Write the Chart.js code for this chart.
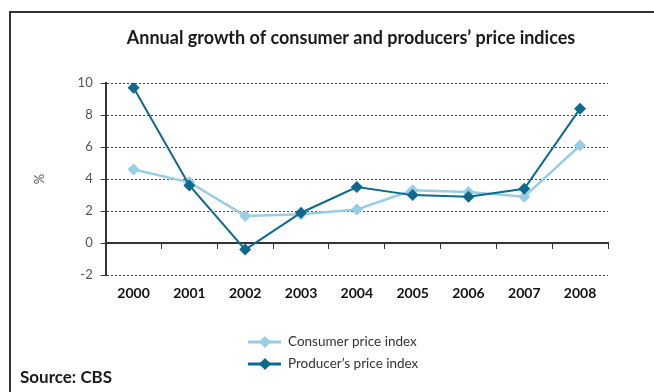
<!DOCTYPE html>
<html>
<head>
<meta charset="utf-8">
<title>Annual growth of consumer and producers’ price indices</title>
<script src="https://cdn.jsdelivr.net/npm/chart.js@4.4.1/dist/chart.umd.min.js"></script>
<style>
    html, body { margin: 0; padding: 0; background: #fff; }
    #wrap { position: relative; width: 654px; height: 392px; }
</style>
</head>
<body>
<div id="wrap"><canvas id="price-chart"></canvas></div>
<script>
(function () {
    'use strict';

    // yearly growth, %
    var years = ['2000', '2001', '2002', '2003', '2004', '2005', '2006', '2007', '2008'];
    var consumerIndex = [4.6, 3.8, 1.7, 1.8, 2.1, 3.3, 3.2, 2.9, 6.1];
    var producerIndex = [9.7, 3.6, -0.4, 1.9, 3.5, 3.0, 2.9, 3.4, 8.4];
    var yTicks = [-2, 0, 2, 4, 6, 8, 10];

    var chartTitle = 'Annual growth of consumer and producers’ price indices';
    var sourceNote = 'Source: CBS';

    var FONT = 'Lato, "Open Sans", sans-serif';
    var DARK = '#0d6a8e', LIGHT = '#97cde5';

    // frame, heading, legend and source line
    var decorations = {
        id: 'decorations',
        beforeDraw: function (chart) {
            var ctx = chart.ctx;
            ctx.save();
            ctx.strokeStyle = '#333';
            ctx.lineWidth = 2;
            ctx.beginPath();
            ctx.moveTo(10, 400);
            ctx.lineTo(10, 12);
            ctx.lineTo(660, 12);
            ctx.stroke();
            ctx.restore();
        },
        afterDraw: function (chart) {
            var ctx = chart.ctx;
            ctx.save();
            ctx.fillStyle = '#1a1a1a';
            ctx.font = 'bold 18px ' + FONT;
            ctx.textAlign = 'center';
            ctx.textBaseline = 'alphabetic';
            ctx.fillText(chartTitle, 351, 44);

            ctx.textAlign = 'left';
            ctx.font = 'bold 17px ' + FONT;
            ctx.fillText(sourceNote, 20, 383);

            // legend, one row per series
            var order = [0, 1];
            order.forEach(function (idx, row) {
                var ds = chart.data.datasets[idx];
                var y = 342 + row * 22;
                ctx.strokeStyle = ds.borderColor;
                ctx.lineWidth = 3;
                ctx.beginPath();
                ctx.moveTo(248, y);
                ctx.lineTo(281, y);
                ctx.stroke();
                ctx.fillStyle = ds.pointBackgroundColor;
                ctx.beginPath();
                ctx.moveTo(265, y - 6);
                ctx.lineTo(271, y);
                ctx.lineTo(265, y + 6);
                ctx.lineTo(259, y);
                ctx.closePath();
                ctx.fill();
                ctx.fillStyle = '#333';
                ctx.font = '13.5px ' + FONT;
                ctx.textBaseline = 'middle';
                ctx.fillText(ds.label, 288, y);
            });
            ctx.restore();
        }
    };

    var ctx = document.getElementById('price-chart').getContext('2d');
    new Chart(ctx, {
        type: 'line',
        data: {
            labels: years,
            datasets: [{
                label: 'Consumer price index',
                data: consumerIndex,
                borderColor: LIGHT,
                backgroundColor: LIGHT,
                pointBackgroundColor: LIGHT,
                pointBorderColor: LIGHT,
                borderWidth: 2.5,
                pointStyle: 'rectRot',
                pointRadius: 6,
                pointBorderWidth: 0,
                order: 1
            }, {
                label: 'Producer’s price index',
                data: producerIndex,
                borderColor: DARK,
                backgroundColor: DARK,
                pointBackgroundColor: DARK,
                pointBorderColor: DARK,
                borderWidth: 2,
                pointStyle: 'rectRot',
                pointRadius: 6,
                pointBorderWidth: 0,
                order: 0
            }]
        },
        options: {
            responsive: true,
            maintainAspectRatio: false,
            animation: false,
            layout: { padding: { top: 83, right: 46, bottom: 80, left: 26 } },
            plugins: {
                legend: { display: false },
                tooltip: { enabled: false }
            },
            scales: {
                // zero line with the year tick marks
                x: {
                    type: 'category',
                    position: { y: 0 },
                    offset: true,
                    grid: { offset: true, drawOnChartArea: false, drawTicks: true, tickLength: 5, color: '#333', tickColor: '#333' },
                    border: { display: true, color: '#333', width: 2 },
                    ticks: { display: false }
                },
                // year labels under the plot
                x2: {
                    type: 'category',
                    position: 'bottom',
                    offset: true,
                    grid: { display: false, drawTicks: false },
                    border: { display: false },
                    ticks: { color: '#111', padding: 10, font: { family: FONT, size: 14, weight: 'bold' } }
                },
                y: {
                    min: yTicks[0],
                    max: yTicks[yTicks.length - 1],
                    ticks: {
                        stepSize: 2,
                        color: '#555',
                        padding: 8,
                        font: { family: FONT, size: 13 }
                    },
                    grid: { color: '#444', lineWidth: 1, drawTicks: true, tickLength: 5, tickColor: '#333' },
                    border: { display: true, color: '#333', width: 2, dash: [2, 2] },
                    title: {
                        display: true,
                        text: '%',
                        color: '#555',
                        padding: { top: 6, bottom: 22 },
                        font: { family: FONT, size: 13 }
                    }
                }
            }
        },
        plugins: [decorations]
    });
})();
</script>
</body>
</html>
